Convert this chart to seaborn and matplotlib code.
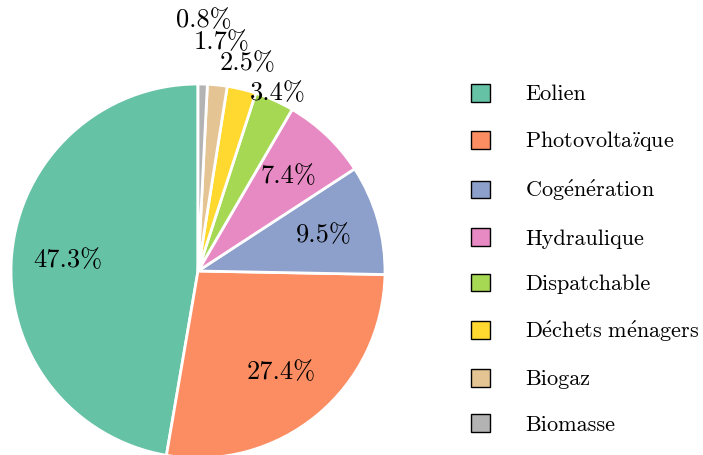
import matplotlib
matplotlib.use("Agg")
import matplotlib.pyplot as plt
from matplotlib.patches import Patch
import numpy as np
import seaborn as sns

sources = ["Eolien", r"$\mathrm{Photovolta\ddot{\imath}que}$",
           r"$\mathrm{Cog\acute{e}n\acute{e}ration}$", "Hydraulique",
           "Dispatchable", r"$\mathrm{D\acute{e}chets\ m\acute{e}nagers}$",
           "Biogaz", "Biomasse"]
shares = [47.3, 27.4, 9.5, 7.4, 3.4, 2.5, 1.7, 0.8]

# how far from the centre each percentage sits (small slices pushed out)
label_dist = [0.7, 0.7, 0.7, 0.7, 1.04, 1.14, 1.23, 1.34]


def main():
    sns.set_style("white")
    plt.rcParams['font.family'] = ['cmr10', 'DejaVu Serif']
    plt.rcParams['mathtext.fontset'] = 'cm'
    plt.rcParams['text.color'] = 'black'

    colors = sns.color_palette("Set2", len(shares))

    fig = plt.figure(figsize=(7.03, 4.55), dpi=100)
    ax = fig.add_axes([11 / 703, -3 / 455, 374 / 703, 374 / 455])

    wedges, _, pcts = ax.pie(
        shares, colors=colors, startangle=90, counterclock=True,
        autopct='%1.1f%%', pctdistance=0.7,
        wedgeprops=dict(edgecolor='white', linewidth=2),
        textprops=dict(fontsize=19, color='black'),
    )
    for w, t, d in zip(wedges, pcts, label_dist):
        w.set_clip_on(False)
        ang = np.deg2rad((w.theta1 + w.theta2) / 2)
        t.set_position((d * np.cos(ang), d * np.sin(ang)))
        t.set_clip_on(False)
    ax.set_xlim(-1, 1)
    ax.set_ylim(-1, 1)
    ax.set_aspect('equal')
    ax.axis('off')

    handles = [Patch(facecolor=c, edgecolor='black', linewidth=1) for c in colors]
    fig.legend(handles, sources, loc='upper left',
               bbox_to_anchor=(462 / 703, 1 - 75 / 455),
               frameon=False, fontsize=16, handlelength=0.85, handleheight=0.85,
               handletextpad=1.6, labelspacing=1.12, borderaxespad=0)

    fig.savefig("out.png", dpi=100)


if __name__ == "__main__":
    main()
